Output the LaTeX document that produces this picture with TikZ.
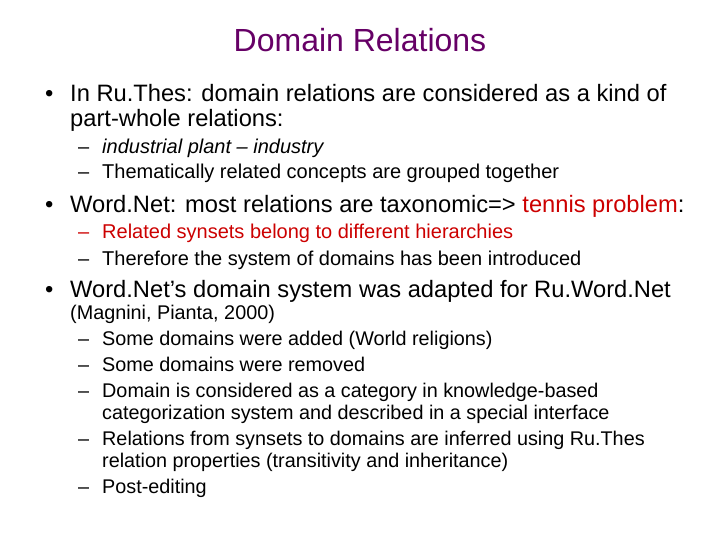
\documentclass[tikz,border=0pt]{standalone}
\usepackage{fontspec}
\setmainfont{Liberation Sans}
\definecolor{ttl}{RGB}{102,0,102}
\definecolor{rd}{RGB}{204,0,0}
\begin{document}
\begin{tikzpicture}[x=1pt,y=-1pt,
  l1/.style={anchor=base west,inner sep=0,font=\fontsize{23.7}{28}\selectfont},
  l2/.style={anchor=base west,inner sep=0,font=\fontsize{20}{24}\selectfont},
  l3/.style={anchor=base west,inner sep=0,font=\fontsize{19.8}{24}\selectfont}]
\useasboundingbox (0,0) rectangle (720,540);
\node[font=\fontsize{32}{38}\selectfont,text=ttl] (t) at (360,40) {Domain Relations};
\node[l1] (b1) at (45,102) {•};
\node[l1] (a1) at (70,102) {In Ru.Thes: domain relations are considered as a kind of};
\node[l1] (a2) at (70,127) {part-whole relations:};
\node[l2] (d1) at (78,154) {–};
\node[l2] (s1) at (102,154) {\itshape industrial plant – industry};
\node[l2] (d2) at (78,179) {–};
\node[l2] (s2) at (102,179) {Thematically related concepts are grouped together};
\node[l1] (b2) at (45,212) {•};
\node[l1] (a3) at (70,212) {Word.Net: most relations are taxonomic=> \textcolor{rd}{tennis problem}:};
\node[l2,text=rd] (d3) at (78,238) {–};
\node[l2,text=rd] (s3) at (102,238) {Related synsets belong to different hierarchies};
\node[l2] (d4) at (78,265) {–};
\node[l2] (s4) at (102,265) {Therefore the system of domains has been introduced};
\node[l1] (b3) at (45,297) {•};
\node[l1] (a4) at (70,297) {Word.Net’s domain system was adapted for Ru.Word.Net};
\node[l3] (a5) at (70,319) {(Magnini, Pianta, 2000)};
\node[l3] (d5) at (78,345) {–};
\node[l3] (s5) at (102,345) {Some domains were added (World religions)};
\node[l3] (d6) at (78,371) {–};
\node[l3] (s6) at (102,371) {Some domains were removed};
\node[l3] (d7) at (78,397) {–};
\node[l3] (s7) at (102,397) {Domain is considered as a category in knowledge-based};
\node[l3] (s8) at (102,419) {categorization system and described in a special interface};
\node[l3] (d9) at (78,445) {–};
\node[l3] (s9) at (102,445) {Relations from synsets to domains are inferred using Ru.Thes};
\node[l3] (s10) at (102,467) {relation properties (transitivity and inheritance)};
\node[l3] (d11) at (78,493) {–};
\node[l3] (s11) at (102,493) {Post-editing};
\end{tikzpicture}
\end{document}
